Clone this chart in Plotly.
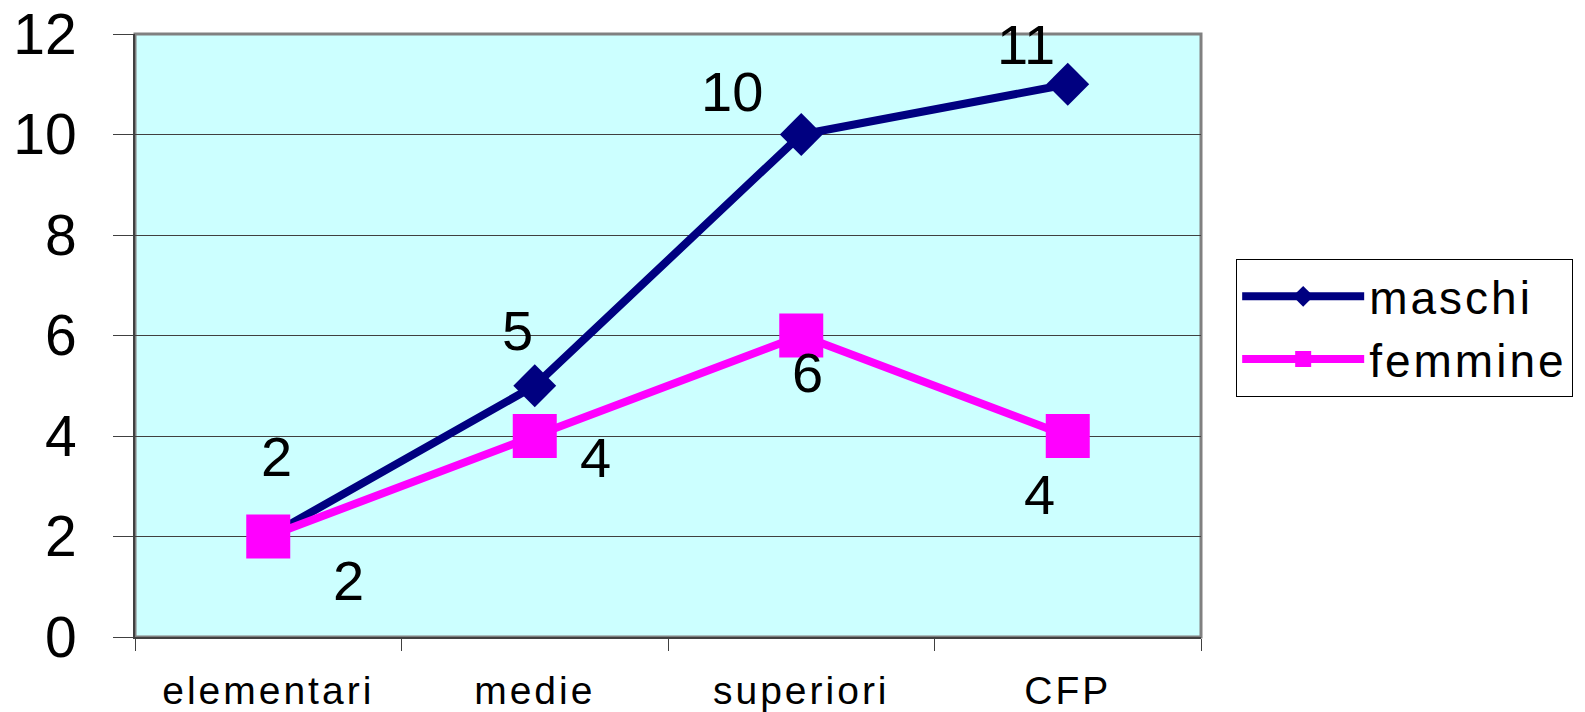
import plotly.graph_objects as go

# data
categories = ["elementari", "medie", "superiori", "CFP"]
maschi = [2, 5, 10, 11]
femmine = [2, 4, 6, 4]
y_ticks = [0, 2, 4, 6, 8, 10, 12]

# label offsets in pixels (x, y) relative to each point
maschi_label_shift = [(8, 80), (-17, 55), (-69, 43), (-42, 40)]
femmine_label_shift = [(80, -44), (61, -21), (6, -37), (-28, -58)]

FONT = "Liberation Sans, Arial, sans-serif"


def spaced(text, px):
    # the original chart uses wide letter spacing on axis and legend text
    return f'<span style="letter-spacing:{px}px">{text}</span>'


fig = go.Figure()
fig.add_trace(go.Scatter(
    x=categories, y=maschi, name=spaced("maschi", 3),
    mode="lines+markers",
    line=dict(color="#000080", width=8),
    marker=dict(symbol="diamond", size=33, color="#000080"),
    cliponaxis=False,
))
fig.add_trace(go.Scatter(
    x=categories, y=femmine, name=spaced("femmine", 3),
    mode="lines+markers",
    line=dict(color="#FF00FF", width=8),
    marker=dict(symbol="square", size=44, color="#FF00FF"),
    cliponaxis=False,
))

# data labels
for series, shifts in ((maschi, maschi_label_shift), (femmine, femmine_label_shift)):
    for cat, val, (dx, dy) in zip(categories, series, shifts):
        fig.add_annotation(
            x=cat, y=val, text=str(val), showarrow=False,
            xshift=dx, yshift=dy,
            font=dict(family=FONT, size=56, color="#000000"),
        )

# gray border around the plot area (top/right)
fig.add_shape(
    type="rect", xref="paper", yref="paper", x0=0, x1=1, y0=0, y1=1,
    line=dict(color="#808080", width=3), layer="below",
)

# page body has an 8px margin, so the figure is sized to fit the window
fig.update_layout(
    width=1577, height=704,
    margin=dict(l=127, r=384, t=26, b=75, autoexpand=False),
    paper_bgcolor="#FFFFFF",
    plot_bgcolor="#CCFFFF",
    font=dict(family=FONT, color="#000000"),
    legend=dict(
        x=1.033, y=0.627, xanchor="left", yanchor="top",
        bgcolor="#FFFFFF", bordercolor="#000000", borderwidth=1,
        font=dict(family=FONT, size=46, color="#000000"),
        itemwidth=122,
        tracegroupgap=10,
    ),
    xaxis=dict(
        type="category",
        range=[-0.5, 3.5],
        tickmode="array",
        tickvals=categories,
        ticktext=[spaced(c, 3) for c in categories],
        automargin=False,
        showgrid=False,
        showline=True, linecolor="#404040", linewidth=2,
        ticks="outside", ticklen=12, tickcolor="#404040", tickwidth=1,
        tickson="boundaries",
        ticklabelstandoff=18,
        tickfont=dict(family=FONT, size=39, color="#000000"),
    ),
    yaxis=dict(
        range=[0, 12],
        tickvals=y_ticks,
        automargin=False,
        ticklabeloverflow="allow",
        showgrid=True, gridcolor="#404040", gridwidth=1,
        zeroline=False,
        showline=True, linecolor="#404040", linewidth=2,
        ticks="outside", ticklen=20, tickcolor="#404040", tickwidth=1,
        ticklabelstandoff=25,
        tickfont=dict(family=FONT, size=57, color="#000000"),
    ),
)

fig.write_html("out.html")
